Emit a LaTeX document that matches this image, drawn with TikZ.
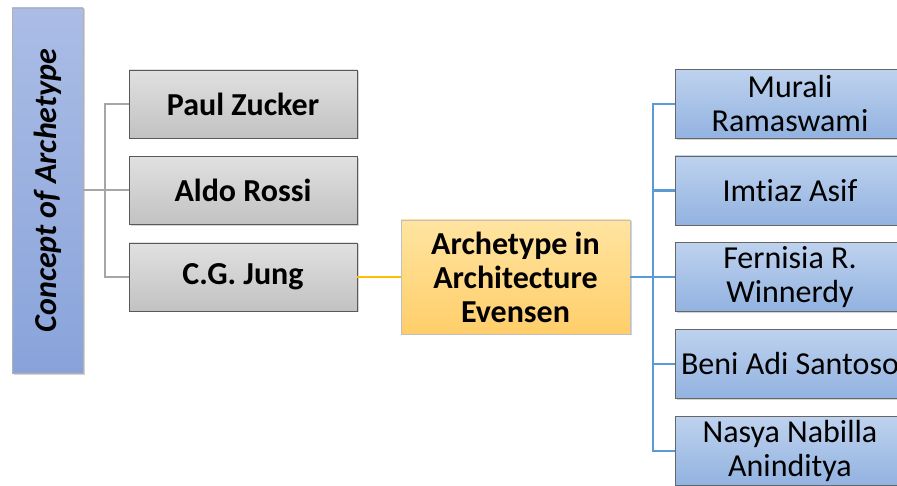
\documentclass[tikz,border=0pt]{standalone}
\usepackage{fontspec}
\setmainfont{Carlito}[Ligatures=NoCommon]
\usetikzlibrary{shadows}

\definecolor{linegray}{HTML}{A6A6A6}
\definecolor{lineyellow}{HTML}{FFC000}
\definecolor{lineblue}{HTML}{5B9BD5}

\begin{document}
\begin{tikzpicture}[x=1pt, y=1pt,
  box/.style={rectangle, inner sep=2pt, align=center,
    font=\fontsize{32}{34}\selectfont,
    drop shadow={shadow xshift=1.5pt, shadow yshift=-1.5pt, opacity=0.35}},
  conceptbox/.style={box, rotate=90, minimum width=365, minimum height=71,
    top color={rgb,255:red,171;green,189;blue,230},
    bottom color={rgb,255:red,137;green,163;blue,218},
    draw=black!30, font=\fontsize{32}{34}\selectfont\bfseries\itshape},
  namebox/.style={box, minimum width=228, minimum height=68,
    top color=black!12, bottom color=black!24, draw=black!65,
    font=\fontsize{32}{34}\selectfont\bfseries},
  mainbox/.style={box, minimum width=229, minimum height=114,
    top color={rgb,255:red,255;green,228;blue,160},
    bottom color={rgb,255:red,255;green,206;blue,106},
    draw=black!25, font=\fontsize{32}{34}\selectfont\bfseries},
  authorbox/.style={box, minimum width=230, minimum height=69,
    top color={rgb,255:red,190;green,210;blue,238},
    bottom color={rgb,255:red,146;green,178;blue,224},
    draw=black!60},
  grayline/.style={draw=linegray, line width=2pt},
  yellowline/.style={draw=lineyellow, line width=2pt},
  blueline/.style={draw=lineblue, line width=2.2pt}]
  \useasboundingbox (0,0) rectangle (897,485);

  % left column
  \node[conceptbox] (concept) at (47.5,294.5) {Concept of Archetype};

  \node[namebox] (zucker) at (243,381) {Paul Zucker};
  \node[namebox] (rossi) at (243,294.5) {Aldo Rossi};
  \node[namebox] (jung) at (243,208) {C.G. Jung};

  % centre
  \node[mainbox] (evensen) at (515.5,208)
    {Archetype in\\Architecture\\Evensen};

  % right column
  \node[authorbox] (murali) at (790,381) {Murali\\Ramaswami};
  \node[authorbox] (imtiaz) at (790,294.5) {Imtiaz Asif};
  \node[authorbox] (fernisia) at (790,208) {Fernisia R.\\Winnerdy};
  \node[authorbox] (beni) at (790,121) {Beni Adi Santoso};
  \node[authorbox] (nasya) at (790,34) {Nasya Nabilla\\Aninditya};

  % connectors
  \coordinate (gtrunk) at (105,294.5);
  \draw[grayline] (concept.south) -- (gtrunk);
  \foreach \n in {zucker,rossi,jung}
    \draw[grayline] (\n.west) -| (gtrunk);

  \draw[yellowline] (jung.east) -- (evensen.west);

  \coordinate (btrunk) at (653,208);
  \draw[blueline] (evensen.east) -- (btrunk);
  \foreach \n in {murali,imtiaz,fernisia,beni,nasya}
    \draw[blueline] (\n.west) -| (btrunk);
\end{tikzpicture}
\end{document}
